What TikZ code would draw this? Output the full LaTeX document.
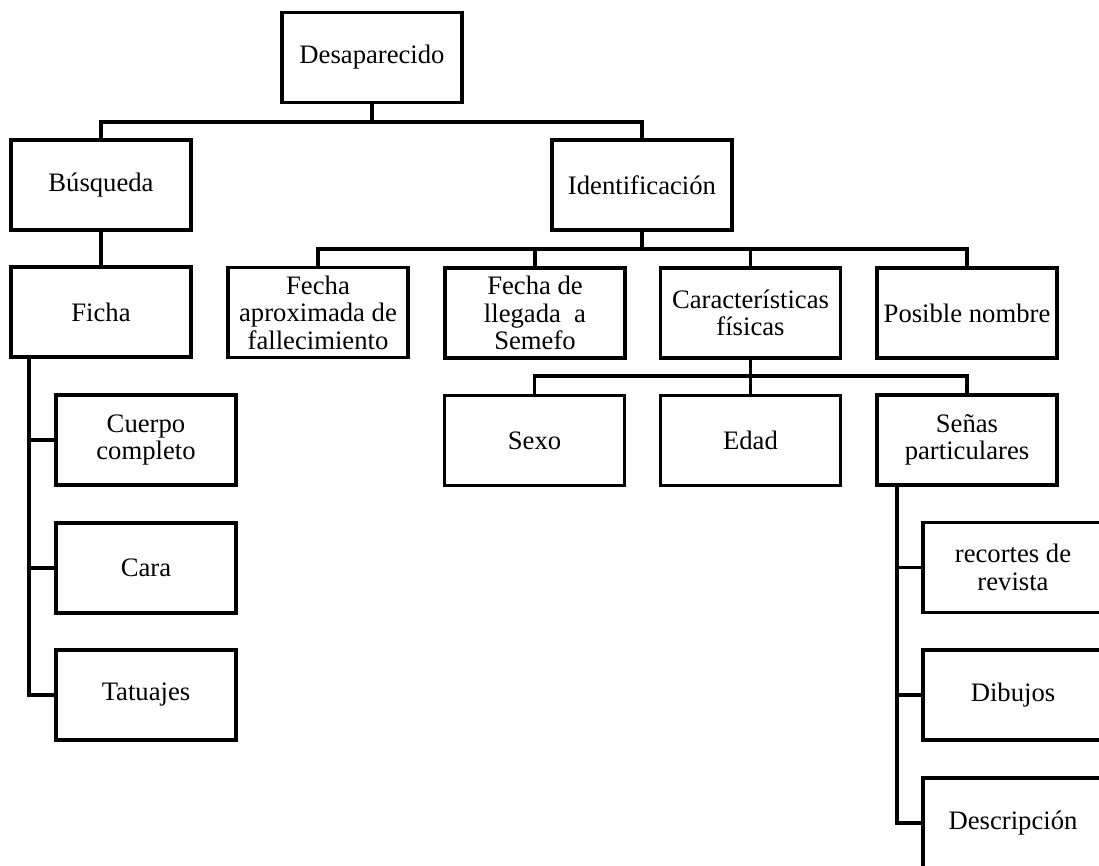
\documentclass[tikz,border=0pt]{standalone}
\usepackage{fontspec}
\setmainfont{Liberation Serif}
\begin{document}
\begin{tikzpicture}[x=0.75pt,y=-0.75pt,
  box/.style={draw, line width=2.4pt, rectangle, minimum width=135pt, minimum height=67.5pt,
    inner sep=1pt, align=center, font=\fontsize{20}{20.6}\selectfont},
  conn/.style={line width=2.4pt}]
\path[use as bounding box] (0,0) rectangle (1099,866);
\clip (0,0) rectangle (1099,866);
% nodes
\node[box] (desap) at (372,57.5) {Desaparecido};
\node[box] (busq) at (101,185) {Búsqueda};
\node[box] (ident) at (642,185) {Identificación};
\node[box] (ficha) at (101,312) {Ficha};
\node[box] (cuerpo) at (146,440) {Cuerpo\\completo};
\node[box] (cara) at (146,568) {Cara};
\node[box] (tatu) at (146,695) {Tatuajes};
\node[box] (fapr) at (318,312.5) {Fecha\\aproximada de\\fallecimiento};
\node[box] (fleg) at (535,313) {Fecha de\\llegada~ a\\Semefo};
\node[box] (car) at (750.5,313) {Características\\físicas};
\node[box] (pos) at (967,313) {Posible nombre};
\node[box] (sexo) at (534.5,440.5) {Sexo};
\node[box] (edad) at (750.5,440.5) {Edad};
\node[box] (senas) at (967,440) {Señas\\particulares};
\node[box] (rec) at (1013,567.5) {recortes de\\revista};
\node[box] (dib) at (1013,695) {Dibujos};
\node[box] (desc) at (1013,823) {Descripción};
% buses
\coordinate (b1) at (372,122);
\coordinate (b2) at (642,249);
\coordinate (b3) at (750.5,376);
\coordinate (ft) at (29,357);
\coordinate (st) at (897,485);
% connectors
\draw[conn] (desap.south) -- (b1);
\draw[conn] (busq.north) |- (b1) -| (ident.north);
\draw[conn] (busq.south) -- (ficha.north);
\draw[conn] (ft) |- (cuerpo.west);
\draw[conn] (ft) |- (cara.west);
\draw[conn] (ft) |- (tatu.west);
\draw[conn] (ident.south) -- (b2);
\draw[conn] (fapr.north) |- (b2) -| (pos.north);
\draw[conn] (fleg.north) -- (fleg.north |- b2);
\draw[conn] (car.north) -- (car.north |- b2);
\draw[conn] (car.south) -- (b3);
\draw[conn] (sexo.north) |- (b3) -| (senas.north);
\draw[conn] (edad.north) -- (edad.north |- b3);
\draw[conn] (st) |- (rec.west);
\draw[conn] (st) |- (dib.west);
\draw[conn] (st) |- (desc.west);
\end{tikzpicture}
\end{document}
